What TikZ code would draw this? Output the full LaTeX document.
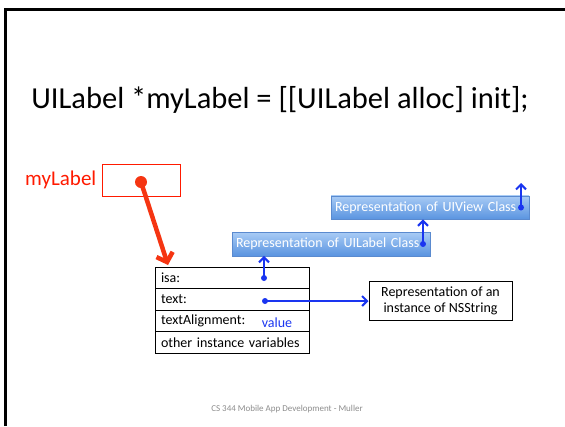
\documentclass[tikz,border=0pt]{standalone}
\usepackage{fontspec}
\setmainfont{Carlito}
\usetikzlibrary{arrows.meta}
\definecolor{labelred}{HTML}{FF1A00}
\definecolor{ptrred}{HTML}{F53512}
\definecolor{ptrblue}{HTML}{1A35F0}
\definecolor{classtop}{HTML}{A8CBF5}
\definecolor{classbot}{HTML}{5A94E0}
\definecolor{classedge}{HTML}{5A8ACF}
\definecolor{footgray}{HTML}{8C8C8C}
\tikzset{
  classbox/.style={draw=classedge,top color=classtop,bottom color=classbot,text=white,
    minimum height=23.5pt,text width=190pt,inner xsep=4pt,align=left,
    font=\fontsize{14}{16}\selectfont},
  cell/.style={draw,line width=1pt,minimum height=21.5pt,text width=142pt,inner xsep=6pt,
    align=left,font=\fontsize{14}{16}\selectfont},
  ptrdot/.style={circle,fill=ptrblue,inner sep=0pt,minimum size=6pt},
  blueptr/.style={ptrblue,line width=2pt,-{Straight Barb[length=5pt,width=10pt]}},
  redptr/.style={ptrred,line width=4.5pt,-{Straight Barb[length=8pt,width=17pt]}}
}
\begin{document}
\begin{tikzpicture}[x=1pt,y=-1pt]
  \useasboundingbox (0,0) rectangle (565,426);
  \draw[line width=3pt] (5.5,426) -- (5.5,9) -- (565,9);

  \node[anchor=base,font=\fontsize{30.5}{34}\selectfont] (title) at (280,108) {UILabel *myLabel = [[UILabel alloc] init];};

  \node[anchor=base west,inner sep=0pt,text=labelred,font=\fontsize{21}{24}\selectfont] (varname) at (25,185) {myLabel};
  \node[draw=labelred,line width=1pt,minimum width=78pt,minimum height=32pt,inner sep=0pt] (varbox) at (141,180) {};
  \node[circle,fill=ptrred,inner sep=0pt,minimum size=12pt] (vardot) at (141,182) {};
  \coordinate (objtop) at (168,265);

  \node[classbox] (uiview) at (430,207.5) {Representation of UIView Class};
  \node[classbox] (uilabel) at (331,244) {Representation of UILabel Class};
  \coordinate (superptr) at (521,183);

  \node[cell] (isa) at (232,277.75) {isa:};
  \node[cell] (text) at (232,299.25) {text:};
  \node[cell] (align) at (232,320.75) {textAlignment:};
  \node[cell] (other) at (232,342.25) {other instance variables};
  \node[text=ptrblue,font=\fontsize{14}{16}\selectfont] (value) at (277,323) {value};

  \node[draw,line width=1pt,minimum width=143pt,minimum height=39pt,align=center,
    font=\fontsize{14}{16.5}\selectfont] (nsstring) at (440.5,301) {Representation of an\\instance of NSString};

  \node[ptrdot] (isadot) at (264,278) {};
  \node[ptrdot] (textdot) at (265,301) {};
  \node[ptrdot] (uilabeldot) at (423,244) {};
  \node[ptrdot] (uiviewdot) at (521,207.5) {};

  \draw[redptr] (vardot.center) -- (objtop);
  \draw[blueptr] (isadot.center) -- (isadot.center |- uilabel.south);
  \draw[blueptr] (textdot.center) -- (nsstring.west);
  \draw[blueptr] (uilabeldot.center) -- (uilabeldot.center |- uiview.south);
  \draw[blueptr] (uiviewdot.center) -- (superptr);

  \node[text=footgray,font=\fontsize{9}{10}\selectfont] (footer) at (287,409) {CS 344 Mobile App Development - Muller};
\end{tikzpicture}
\end{document}
